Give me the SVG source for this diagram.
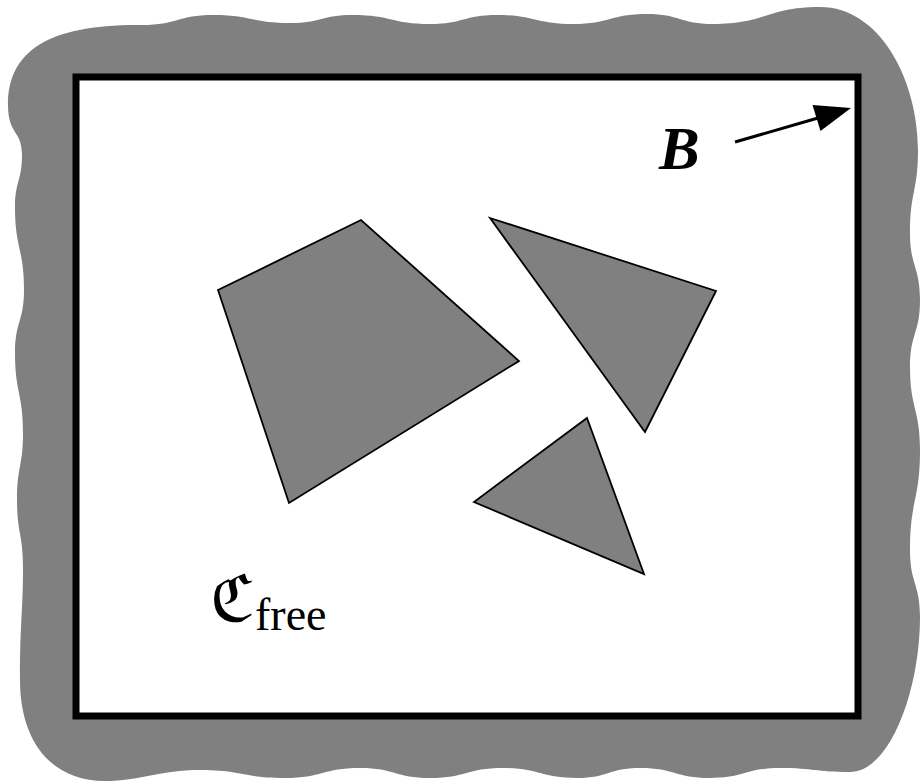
<svg xmlns="http://www.w3.org/2000/svg" width="921" height="783" viewBox="0 0 921 783">
  <style>
    .obst { fill: #808080; stroke: #000; stroke-width: 1.8; stroke-linejoin: miter; }
    .lbl { font-family: "Liberation Serif", "Times New Roman", serif; fill: #000; }
  </style>
  <rect x="0" y="0" width="921" height="783" fill="#ffffff"/>
  <g id="boundary-region">
    <path fill="#808080" d="M 8,105
      C 8,50 50,24 142,25
      C 177.5,25 177.5,15 213,15
      C 251.5,15 251.5,23 290,23
      C 321.5,23 321.5,15 353,15
      C 391.5,15 391.5,24 430,24
      C 463.5,24 463.5,15 497,15
      C 535,15 535,24 573,24
      C 610,24 610,14 647,14
      C 680,14 680,24 713,24
      C 766.5,24 766.5,7 820,7
      C 880,7 918,80 918,150
      C 918,191.5 910,191.5 910,233
      C 910,266.5 920,266.5 920,300
      C 920,333.5 910,333.5 910,367
      C 910,408.5 920,408.5 920,450
      C 920,500 910,500 910,550
      C 910,583.5 920,583.5 920,617
      C 920,690 890,772 850,772
      C 815,772 815,768 780,768
      C 745,768 745,778 710,778
      C 675,778 675,768 640,768
      C 608.5,768 608.5,778 577,778
      C 540,778 540,768 503,768
      C 466.5,768 466.5,778 430,778
      C 395,778 395,768 360,768
      C 322.5,768 322.5,778 285,778
      C 242.5,778 242.5,770 200,770
      C 160,770 140,781 105,781
      C 50,781 20,740 20,680
      C 20,620 23,613.5 23,567
      C 23,533.5 17,533.5 17,500
      C 17,466.5 23,466.5 23,433
      C 23,393 15,393 15,353
      C 15,321.5 24,321.5 24,290
      C 24,248.5 15,248.5 15,207
      C 15,181 22,181 22,155
      C 22,130 8,135 8,105 Z"/>
  </g>
  <g id="workspace">
    <rect x="76" y="77" width="782" height="639" fill="#ffffff" stroke="#000" stroke-width="7"/>
  </g>
  <g id="obstacle-quad">
    <polygon class="obst" points="218,290 361,220 519,361 289,503"/>
  </g>
  <g id="obstacle-tri1">
    <polygon class="obst" points="490,218 716,291 645,432"/>
  </g>
  <g id="obstacle-tri2">
    <polygon class="obst" points="587,418 644,574 474,502"/>
  </g>
  <g id="label-B">
    <text class="lbl" x="659" y="169" font-size="61" font-weight="bold" font-style="italic">B</text>
  </g>
  <g id="label-Cfree">
    <text class="lbl" x="210" y="621" font-size="64"><tspan font-family="'DejaVu Serif', 'DejaVu Sans', serif">ℭ</tspan><tspan font-size="46" dy="9" dx="0">free</tspan></text>
  </g>
  <g id="connectors">
    <line x1="735" y1="142" x2="818" y2="118" stroke="#000" stroke-width="3"/>
    <polygon points="851,108 820.5,131 812.5,105" fill="#000"/>
  </g>
</svg>
